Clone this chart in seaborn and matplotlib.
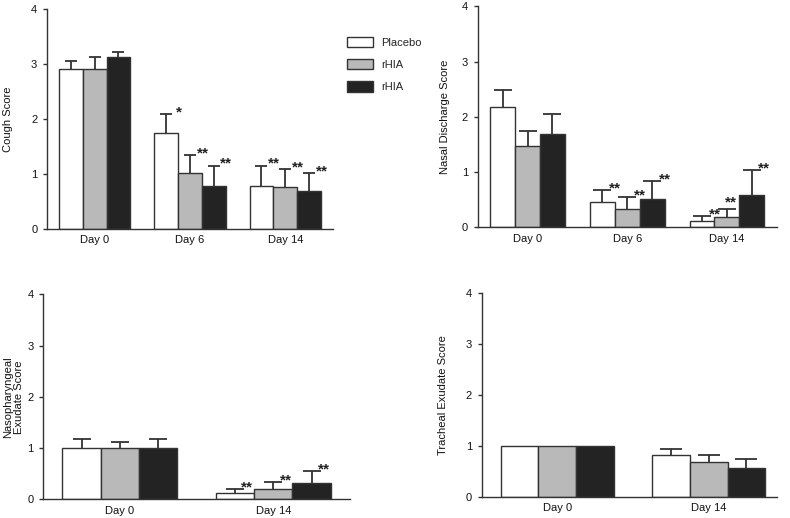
import numpy as np
import pandas as pd
import matplotlib
matplotlib.use('Agg')
import matplotlib.pyplot as plt
from matplotlib.patches import Patch
import seaborn as sns

# groups (hue keys must be unique, two arms are both labelled rHIA)
group_keys = ['placebo', 'rhia_a', 'rhia_b']
group_labels = ['Placebo', 'rHIA', 'rHIA']
group_colors = ['#ffffff', '#b9b9b9', '#232323']

# cough score
cough_days = ['Day 0', 'Day 6', 'Day 14']
cough_placebo = [2.91, 1.75, 0.78]
cough_rhia_a = [2.91, 1.01, 0.76]
cough_rhia_b = [3.12, 0.78, 0.69]
cough_err_placebo = [0.15, 0.34, 0.37]
cough_err_rhia_a = [0.22, 0.33, 0.33]
cough_err_rhia_b = [0.10, 0.37, 0.32]
cough_sig_placebo = ['', '*', '**']
cough_sig_rhia_a = ['', '**', '**']
cough_sig_rhia_b = ['', '**', '**']

# nasal discharge score
nasal_days = ['Day 0', 'Day 6', 'Day 14']
nasal_placebo = [2.17, 0.46, 0.11]
nasal_rhia_a = [1.48, 0.33, 0.18]
nasal_rhia_b = [1.68, 0.52, 0.58]
nasal_err_placebo = [0.32, 0.21, 0.09]
nasal_err_rhia_a = [0.27, 0.21, 0.15]
nasal_err_rhia_b = [0.37, 0.32, 0.45]
nasal_sig_placebo = ['', '**', '**']
nasal_sig_rhia_a = ['', '**', '**']
nasal_sig_rhia_b = ['', '**', '**']

# nasopharyngeal exudate score
naso_days = ['Day 0', 'Day 14']
naso_placebo = [1.00, 0.12]
naso_rhia_a = [1.00, 0.21]
naso_rhia_b = [1.00, 0.31]
naso_err_placebo = [0.17, 0.08]
naso_err_rhia_a = [0.12, 0.12]
naso_err_rhia_b = [0.17, 0.24]
naso_sig_placebo = ['', '**']
naso_sig_rhia_a = ['', '**']
naso_sig_rhia_b = ['', '**']

# tracheal exudate score
trach_days = ['Day 0', 'Day 14']
trach_placebo = [1.00, 0.81]
trach_rhia_a = [1.00, 0.69]
trach_rhia_b = [1.00, 0.56]
trach_err_placebo = [0.0, 0.13]
trach_err_rhia_a = [0.0, 0.13]
trach_err_rhia_b = [0.0, 0.17]
trach_sig_placebo = ['', '']
trach_sig_rhia_a = ['', '']
trach_sig_rhia_b = ['', '']

sns.set_style('ticks')
plt.rcParams['font.family'] = ['Liberation Sans', 'DejaVu Sans']
plt.rcParams['axes.linewidth'] = 1.0

EDGE = '#333333'
TXT = '#111111'


def make_df(days, vals):
    rows = []
    for key, v in zip(group_keys, vals):
        for d, s in zip(days, v):
            rows.append({'day': d, 'group': key, 'score': s})
    return pd.DataFrame(rows)


def draw_panel(fig, rect, days, vals, errs, sigs, ylabel, label_x, xlim, capsize,
               star_shift=None):
    star_shift = star_shift or {}
    ax = fig.add_axes(rect)
    df = make_df(days, vals)
    sns.barplot(data=df, x='day', y='score', hue='group', hue_order=group_keys,
                palette=dict(zip(group_keys, group_colors)), width=0.75, gap=0,
                edgecolor=EDGE, linewidth=1.0, errorbar=None, legend=False, ax=ax)

    # upper half error bars only, cap on top
    for gi, (cont, err, sig) in enumerate(zip(ax.containers, errs, sigs)):
        for di, (bar, e, s) in enumerate(zip(cont, err, sig)):
            cx = bar.get_x() + bar.get_width() / 2
            top = bar.get_height()
            if e > 0:
                ax.vlines(cx, top, top + e, color=EDGE, linewidth=1.3, zorder=3)
                ax.plot([cx], [top + e], marker='_', markersize=2 * capsize,
                        markeredgewidth=1.3, color=EDGE, zorder=3)
            if s:
                dx, dy = star_shift.get((gi, di), (9, -1.5))
                ax.annotate(s, xy=(cx, top + e), xytext=(dx, dy), textcoords='offset points',
                            ha='center', va='baseline', fontsize=11, fontweight='bold',
                            color='#222222')

    ax.set_xlim(*xlim)
    ax.set_ylim(0, 4)
    ax.set_yticks([0, 1, 2, 3, 4])
    ax.set_xlabel('')
    ax.set_ylabel(ylabel, fontsize=8, color=TXT, linespacing=1.1)
    ax.yaxis.set_label_coords(label_x, 0.5)
    ax.tick_params(axis='y', length=3, width=1, pad=4, labelsize=8, color=EDGE, labelcolor=TXT)
    ax.tick_params(axis='x', length=0, pad=4.5, labelsize=8, labelcolor=TXT)
    for sp in ['left', 'bottom']:
        ax.spines[sp].set_color(EDGE)
    sns.despine(ax=ax)
    return ax


fig = plt.figure(figsize=(7.9, 5.18), dpi=100)

draw_panel(fig, [0.0595, 0.5579, 0.362, 0.4247], cough_days,
           [cough_placebo, cough_rhia_a, cough_rhia_b],
           [cough_err_placebo, cough_err_rhia_a, cough_err_rhia_b],
           [cough_sig_placebo, cough_sig_rhia_a, cough_sig_rhia_b],
           'Cough Score', -0.119, (-0.5, 2.5), 4.3)

draw_panel(fig, [0.6047, 0.5612, 0.3785, 0.4266], nasal_days,
           [nasal_placebo, nasal_rhia_a, nasal_rhia_b],
           [nasal_err_placebo, nasal_err_rhia_a, nasal_err_rhia_b],
           [nasal_sig_placebo, nasal_sig_rhia_a, nasal_sig_rhia_b],
           'Nasal Discharge Score', -0.093, (-0.5, 2.5), 6.5,
           star_shift={(1, 2): (3, 2)})

draw_panel(fig, [0.0548, 0.0361, 0.3882, 0.3957], naso_days,
           [naso_placebo, naso_rhia_a, naso_rhia_b],
           [naso_err_placebo, naso_err_rhia_a, naso_err_rhia_b],
           [naso_sig_placebo, naso_sig_rhia_a, naso_sig_rhia_b],
           'Nasopharyngeal\nExudate Score', -0.063, (-0.5, 1.5), 6.5)

draw_panel(fig, [0.6097, 0.0411, 0.3735, 0.3938], trach_days,
           [trach_placebo, trach_rhia_a, trach_rhia_b],
           [trach_err_placebo, trach_err_rhia_a, trach_err_rhia_b],
           [trach_sig_placebo, trach_sig_rhia_a, trach_sig_rhia_b],
           'Tracheal Exudate Score', -0.113, (-0.5, 1.45), 7.9)

handles = [Patch(facecolor=c, edgecolor=EDGE, linewidth=1.0) for c in group_colors]
fig.legend(handles, group_labels, loc='upper left', bbox_to_anchor=(0.434, 0.938),
           frameon=False, fontsize=8, handlelength=2.35, handleheight=1.1,
           labelspacing=1.0, handletextpad=0.7, borderaxespad=0)

fig.savefig('out.png', dpi=100)
